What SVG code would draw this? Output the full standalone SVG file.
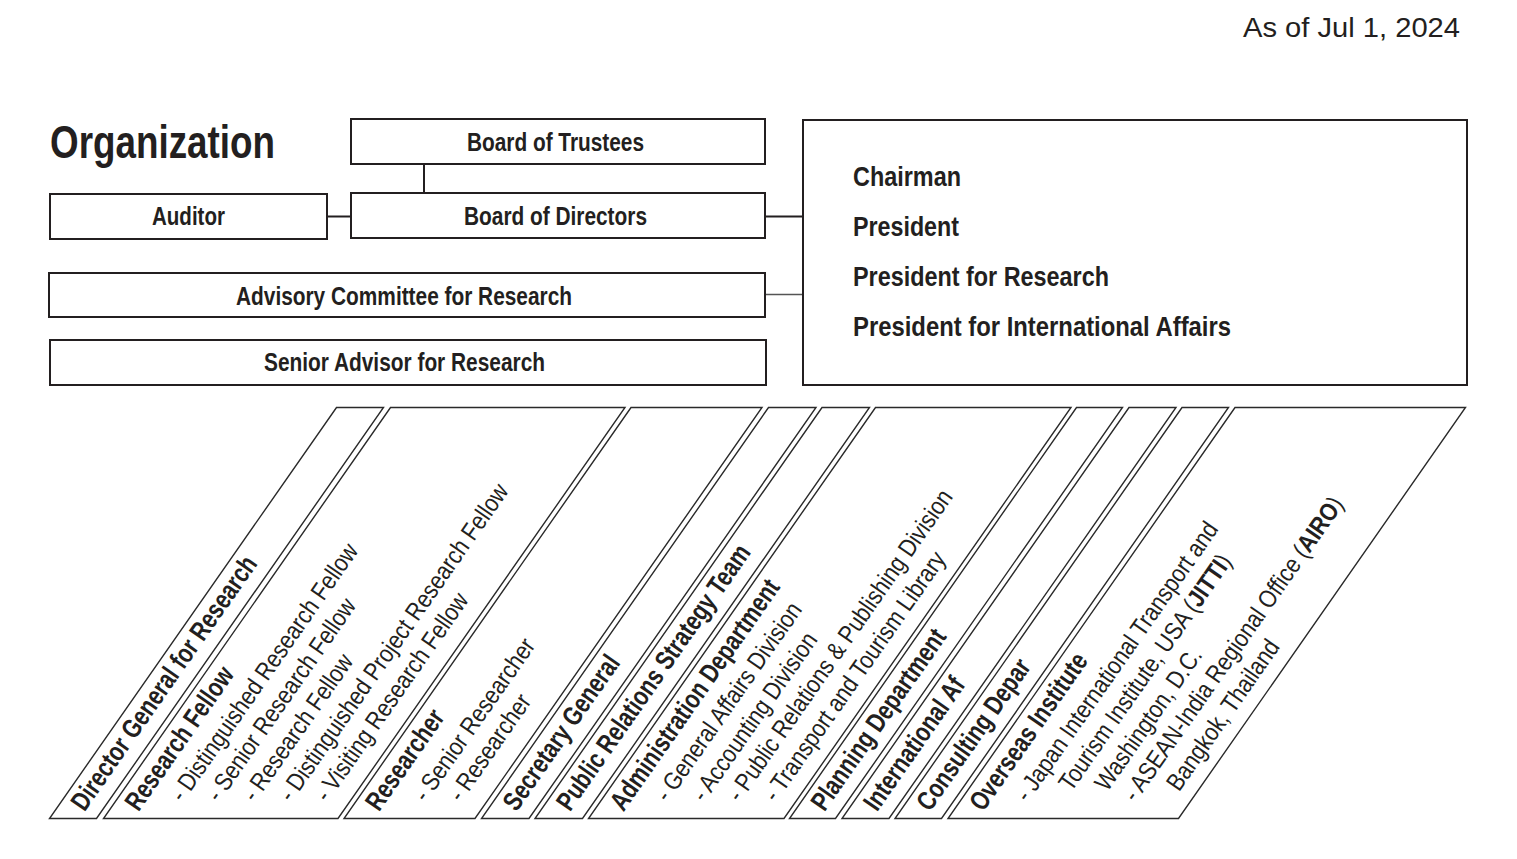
<svg xmlns="http://www.w3.org/2000/svg" width="1517" height="859" viewBox="0 0 1517 859">
<style>
.box{fill:#fff;stroke:#231f20;stroke-width:2}
.pan{fill:#fff;stroke:#2a2a2a;stroke-width:1.4;stroke-linejoin:miter}
.conn{stroke:#231f20;stroke-width:2;fill:none}
.b{font-family:"Liberation Sans",Arial,sans-serif;font-weight:700;fill:#231f20}
.r{font-family:"Liberation Sans",Arial,sans-serif;font-weight:400;fill:#231f20}
.bx{font-size:25px}
.hd{font-size:27px}
.sb{font-size:25px}
</style>
<rect width="1517" height="859" fill="#fff"/>
<text class="r" x="1243" y="37" font-size="27" textLength="217" lengthAdjust="spacingAndGlyphs">As of Jul 1, 2024</text>
<text class="b" x="50" y="158" font-size="47" textLength="225" lengthAdjust="spacingAndGlyphs">Organization</text>

<g id="connectors">
<line class="conn" x1="424" y1="164" x2="424" y2="193"/>
<line class="conn" x1="327" y1="216.5" x2="351" y2="216.5"/>
<line class="conn" x1="765" y1="216.5" x2="803" y2="216.5"/>
<line x1="765" y1="294.5" x2="803" y2="294.5" stroke="#555" stroke-width="1.5"/>
</g>

<g id="board-of-trustees">
<rect class="box" x="351" y="119" width="414" height="45"/>
<text class="b bx" x="467" y="151" textLength="177" lengthAdjust="spacingAndGlyphs">Board of Trustees</text>
</g>
<g id="auditor">
<rect class="box" x="50" y="194" width="277" height="45"/>
<text class="b bx" x="152" y="225" textLength="73" lengthAdjust="spacingAndGlyphs">Auditor</text>
</g>
<g id="board-of-directors">
<rect class="box" x="351" y="193" width="414" height="45"/>
<text class="b bx" x="464" y="225" textLength="183" lengthAdjust="spacingAndGlyphs">Board of Directors</text>
</g>
<g id="advisory-committee">
<rect class="box" x="49" y="273" width="716" height="44"/>
<text class="b bx" x="236" y="304.5" textLength="336" lengthAdjust="spacingAndGlyphs">Advisory Committee for Research</text>
</g>
<g id="senior-advisor">
<rect class="box" x="50" y="340" width="716" height="45"/>
<text class="b bx" x="264" y="371" textLength="281" lengthAdjust="spacingAndGlyphs">Senior Advisor for Research</text>
</g>
<g id="executives">
<rect class="box" x="803" y="120" width="664" height="265"/>
<text class="b" font-size="27" x="853" y="186" textLength="108" lengthAdjust="spacingAndGlyphs">Chairman</text>
<text class="b" font-size="27" x="853" y="236" textLength="106" lengthAdjust="spacingAndGlyphs">President</text>
<text class="b" font-size="27" x="853" y="286" textLength="256" lengthAdjust="spacingAndGlyphs">President for Research</text>
<text class="b" font-size="27" x="853" y="335.5" textLength="378" lengthAdjust="spacingAndGlyphs">President for International Affairs</text>
</g>

<g id="director-general">
<polygon class="pan" points="49.5,818.5 96.5,818.5 383.5,407.5 336.5,407.5"/>
<text class="b hd" transform="translate(84.5,812.5) rotate(-55.07) scale(0.79,1)">Director General for Research</text>
</g>
<g id="research-fellow">
<polygon class="pan" points="103.5,818.5 338,818.5 625,407.5 390.5,407.5"/>
<text class="b hd" transform="translate(138.5,812.5) rotate(-55.07) scale(0.79,1)">Research Fellow</text>
<text class="r sb" transform="translate(182.7,803.3) rotate(-55.07) scale(0.86,1)">- Distinguished Research Fellow</text>
<text class="r sb" transform="translate(218.9,803.3) rotate(-55.07) scale(0.86,1)">- Senior Research Fellow</text>
<text class="r sb" transform="translate(255.1,803.3) rotate(-55.07) scale(0.86,1)">- Research Fellow</text>
<text class="r sb" transform="translate(291.3,803.3) rotate(-55.07) scale(0.86,1)">- Distinguished Project Research Fellow</text>
<text class="r sb" transform="translate(327.5,803.3) rotate(-55.07) scale(0.86,1)">- Visiting Research Fellow</text>
</g>
<g id="researcher">
<polygon class="pan" points="344,818.5 475,818.5 762,407.5 631,407.5"/>
<text class="b hd" transform="translate(379,812.5) rotate(-55.07) scale(0.79,1)">Researcher</text>
<text class="r sb" transform="translate(426,803.3) rotate(-55.07) scale(0.86,1)">- Senior Researcher</text>
<text class="r sb" transform="translate(461,803.3) rotate(-55.07) scale(0.86,1)">- Researcher</text>
</g>
<g id="secretary-general">
<polygon class="pan" points="481.5,818.5 529,818.5 816,407.5 768.5,407.5"/>
<text class="b hd" transform="translate(516.5,812.5) rotate(-55.07) scale(0.79,1)">Secretary General</text>
</g>
<g id="pr-strategy-team">
<polygon class="pan" points="535,818.5 582.5,818.5 869.5,407.5 822,407.5"/>
<text class="b hd" transform="translate(570,812.5) rotate(-55.07) scale(0.79,1)">Public Relations Strategy Team</text>
</g>
<g id="administration">
<polygon class="pan" points="588.5,818.5 784,818.5 1071,407.5 875.5,407.5"/>
<text class="b hd" transform="translate(623.5,812.5) rotate(-55.07) scale(0.79,1)">Administration Department</text>
<text class="r sb" transform="translate(667.7,803.3) rotate(-55.07) scale(0.86,1)">- General Affairs Division</text>
<text class="r sb" transform="translate(704.2,803.3) rotate(-55.07) scale(0.86,1)">- Accounting Division</text>
<text class="r sb" transform="translate(739.7,803.3) rotate(-55.07) scale(0.86,1)">- Public Relations &amp; Publishing Division</text>
<text class="r sb" transform="translate(776,803.3) rotate(-55.07) scale(0.86,1)">- Transport and Tourism Library</text>
</g>
<g id="planning">
<polygon class="pan" points="789.5,818.5 835.5,818.5 1122.5,407.5 1076.5,407.5"/>
<text class="b hd" transform="translate(824.5,812.5) rotate(-55.07) scale(0.79,1)">Planning Department</text>
</g>
<g id="international">
<polygon class="pan" points="842,818.5 889,818.5 1176,407.5 1129,407.5"/>
<text class="b hd" transform="translate(877,812.5) rotate(-55.07) scale(0.79,1)">International Af</text>
</g>
<g id="consulting">
<polygon class="pan" points="895,818.5 941.5,818.5 1228.5,407.5 1182,407.5"/>
<text class="b hd" transform="translate(930,812.5) rotate(-55.07) scale(0.79,1)">Consulting Depar</text>
</g>
<g id="overseas">
<polygon class="pan" points="948,818.5 1178.5,818.5 1465.5,407.5 1235,407.5"/>
<text class="b hd" transform="translate(983,812.5) rotate(-55.07) scale(0.79,1)">Overseas Institute</text>
<text class="r sb" transform="translate(1027.7,803.3) rotate(-55.07) scale(0.86,1)">- Japan International Transport and</text>
<text class="r sb" x="15.3" transform="translate(1063.7,803.3) rotate(-55.07) scale(0.86,1)">Tourism Institute, USA (<tspan font-weight="700">JITTI</tspan>)</text>
<text class="r sb" x="15.3" transform="translate(1099.7,803.3) rotate(-55.07) scale(0.86,1)">Washington, D.C.</text>
<text class="r sb" transform="translate(1135.4,803.3) rotate(-55.07) scale(0.86,1)">- ASEAN-India Regional Office (<tspan font-weight="700">AIRO</tspan>)</text>
<text class="r sb" x="15.3" transform="translate(1171.4,803.3) rotate(-55.07) scale(0.86,1)">Bangkok, Thailand</text>
</g>
</svg>
